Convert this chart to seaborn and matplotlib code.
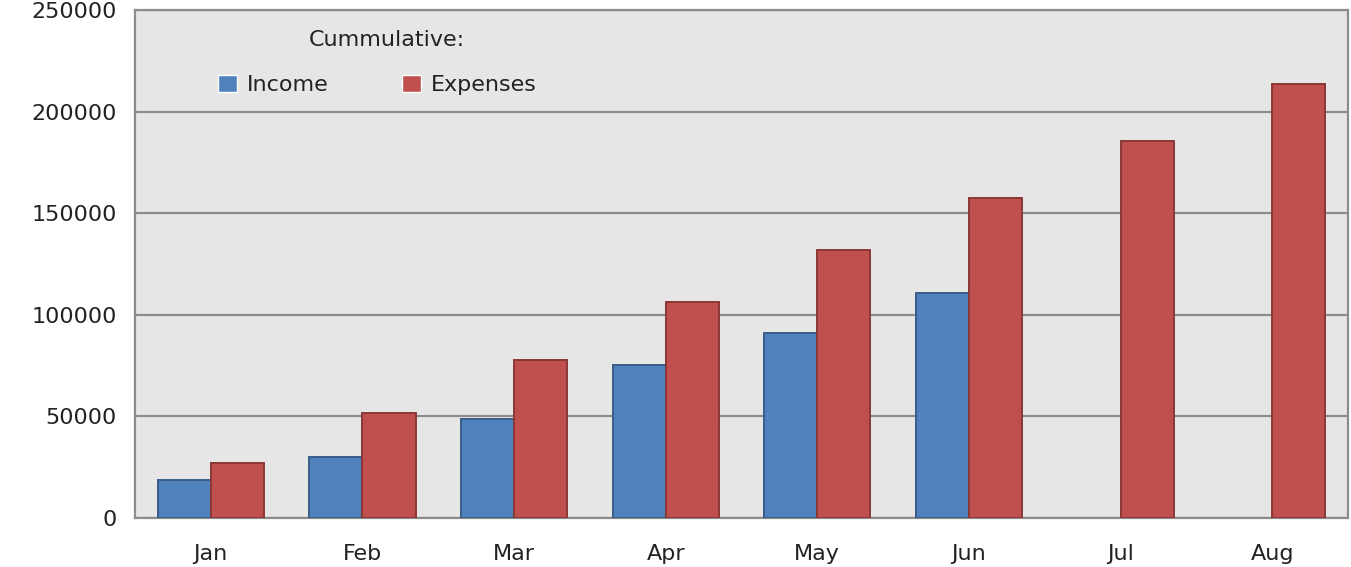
import matplotlib
matplotlib.use("Agg")
import matplotlib.pyplot as plt
import numpy as np
import pandas as pd
import seaborn as sns

months = ["Jan", "Feb", "Mar", "Apr", "May", "Jun", "Jul", "Aug"]
income = [18800, 30100, 48800, 75400, 91100, 110900, np.nan, np.nan]
expenses = [27200, 51900, 77800, 106400, 132000, 157400, 185300, 213400]
series = ["Income", "Expenses"]
y_ticks = [0, 50000, 100000, 150000, 200000, 250000]

df = pd.DataFrame({
    "month": months * 2,
    "value": income + expenses,
    "kind": ["Income"] * len(months) + ["Expenses"] * len(months),
}).dropna()

sns.set_style("white")
plt.rcParams['font.family'] = ['DejaVu Sans']

W, H = 1351, 567
fig = plt.figure(figsize=(W / 100, H / 100), dpi=100)
ax = fig.add_axes([135 / W, 49 / H, 1213 / W, 508 / H])
ax.set_facecolor("#E6E6E6")

pal = {"Income": "#4F81BD", "Expenses": "#C0504D"}
sns.barplot(data=df, x="month", y="value", hue="kind", order=months,
            hue_order=series, palette=pal, width=0.7, saturation=1,
            errorbar=None, ax=ax, zorder=3)

edges = {"Income": "#385D8A", "Expenses": "#8C3836"}
for cont, name in zip(ax.containers, series):
    for bar in cont:
        bar.set_edgecolor(edges[name])
        bar.set_linewidth(1.4)

ax.set_ylim(0, 250000)
ax.set_xlim(-0.5, len(months) - 0.5)
ax.set_yticks(y_ticks)
ax.set_yticklabels([str(t) for t in y_ticks])
ax.yaxis.grid(True, color="#8C8C8C", linewidth=1.6, zorder=0)
ax.set_axisbelow(True)
ax.set_xlabel("")
ax.set_ylabel("")
ax.tick_params(axis="y", length=0, pad=13, labelsize=16, labelcolor="#222222")
ax.tick_params(axis="x", length=0, pad=19, labelsize=16, labelcolor="#222222")
for sp in ax.spines.values():
    sp.set_color("#8C8C8C")
    sp.set_linewidth(1.6)

# legend title drawn separately, like the reference's wide gap
fig.text(387 / W, 1 - 40 / H, "Cummulative:", ha="center", va="center",
         fontsize=16, color="#222222")
handles, labels = ax.get_legend_handles_labels()
leg = ax.legend(handles, labels, ncol=2, frameon=False,
                loc="center left", bbox_to_anchor=(218 / W, 1 - 85 / H),
                bbox_transform=fig.transFigure, borderaxespad=0, borderpad=0,
                fontsize=16, handlelength=0.85, handleheight=0.85,
                handletextpad=0.45, columnspacing=3.3)
for t in leg.get_texts():
    t.set_color("#222222")

fig.savefig("out.png", dpi=100, facecolor="white")
